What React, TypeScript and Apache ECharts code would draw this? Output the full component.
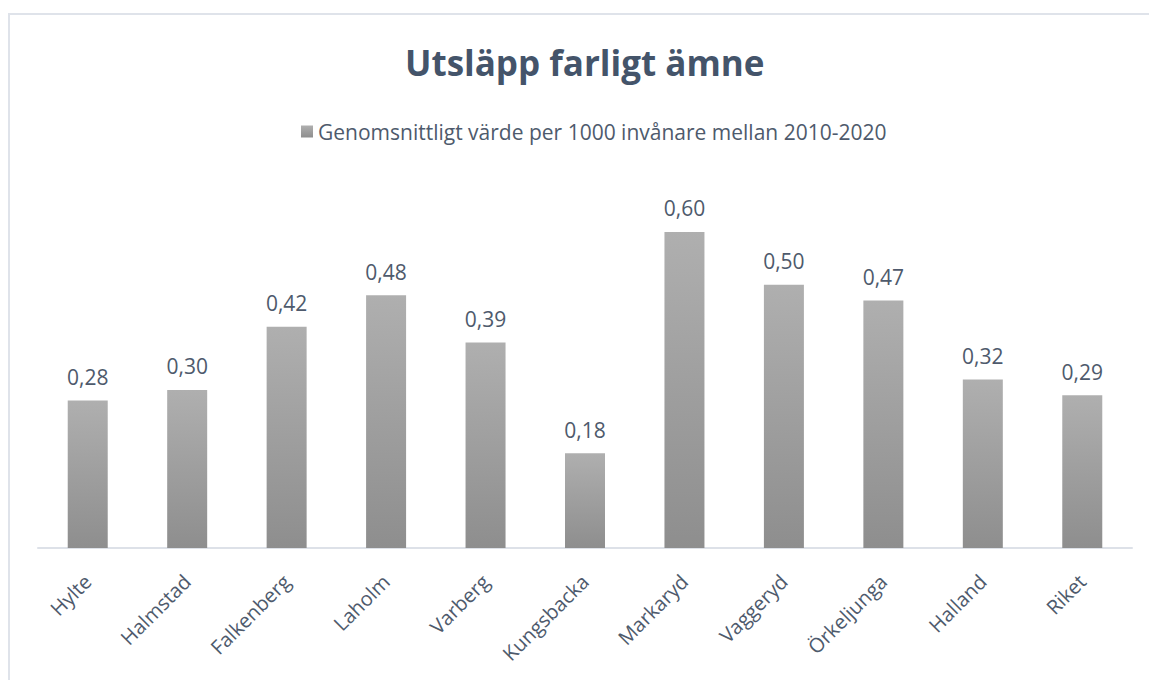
import React, { useEffect, useRef } from "react";
import * as echarts from "echarts";

const categories = [
  "Hylte",
  "Halmstad",
  "Falkenberg",
  "Laholm",
  "Varberg",
  "Kungsbacka",
  "Markaryd",
  "Vaggeryd",
  "Örkeljunga",
  "Halland",
  "Riket",
];
const values = [0.28, 0.3, 0.42, 0.48, 0.39, 0.18, 0.6, 0.5, 0.47, 0.32, 0.29];
const seriesName = "Genomsnittligt värde per 1000 invånare mellan 2010-2020";
const titleText = "Utsläpp farligt ämne";

const FONT = "'Open Sans', 'Noto Sans', sans-serif";

export default function App() {
  const ref = useRef<HTMLDivElement>(null);
  useEffect(() => {
    if (!ref.current) return;
    const chart = echarts.init(ref.current, null, { renderer: "svg" });
    const barColor = new echarts.graphic.LinearGradient(0, 0, 0, 1, [
      { offset: 0, color: "#afafaf" },
      { offset: 1, color: "#8e8e8e" },
    ]);
    chart.setOption({
      animation: false,
      backgroundColor: "#ffffff",
      title: {
        text: titleText,
        left: 400,
        top: 40,
        textStyle: {
          fontFamily: FONT,
          fontSize: 35,
          fontWeight: "bold",
          color: "#44546a",
        },
      },
      legend: {
        top: 116,
        left: 296,
        itemWidth: 12,
        itemHeight: 12,
        itemGap: 6,
        icon: "rect",
        textStyle: {
          fontFamily: FONT,
          fontSize: 21,
          color: "#4e5a6c",
        },
        data: [{ name: seriesName, itemStyle: { color: barColor } }],
      },
      grid: {
        left: 38,
        right: 17,
        top: 179.3,
        bottom: 132,
        containLabel: false,
      },
      xAxis: {
        type: "category",
        data: categories,
        axisLine: { lineStyle: { color: "#dde1e8", width: 2 } },
        axisTick: { show: false },
        axisLabel: {
          rotate: 45,
          margin: 30,
          fontFamily: FONT,
          fontSize: 20,
          color: "#4e5a6c",
          interval: 0,
        },
      },
      yAxis: {
        type: "value",
        min: 0,
        max: 0.7,
        show: false,
        splitLine: { show: false },
      },
      graphic: [
        {
          type: "rect",
          shape: { x: 9, y: 14, width: 1200, height: 720 },
          style: { fill: "none", stroke: "#dfe3ea", lineWidth: 2 },
          silent: true,
          z: 100,
        },
      ],
      series: [
        {
          name: seriesName,
          type: "bar",
          data: values,
          barWidth: 40,
          itemStyle: { color: barColor },
          label: {
            show: true,
            position: "top",
            distance: 13,
            fontFamily: FONT,
            fontSize: 21,
            color: "#4e5a6c",
            formatter: (p: any) => Number(p.value).toFixed(2).replace(".", ","),
          },
        },
      ],
    });
    return () => chart.dispose();
  }, []);
  return (
    <div
      ref={ref}
      style={{ position: "fixed", left: 0, top: 0, width: 1149, height: 680 }}
    />
  );
}
